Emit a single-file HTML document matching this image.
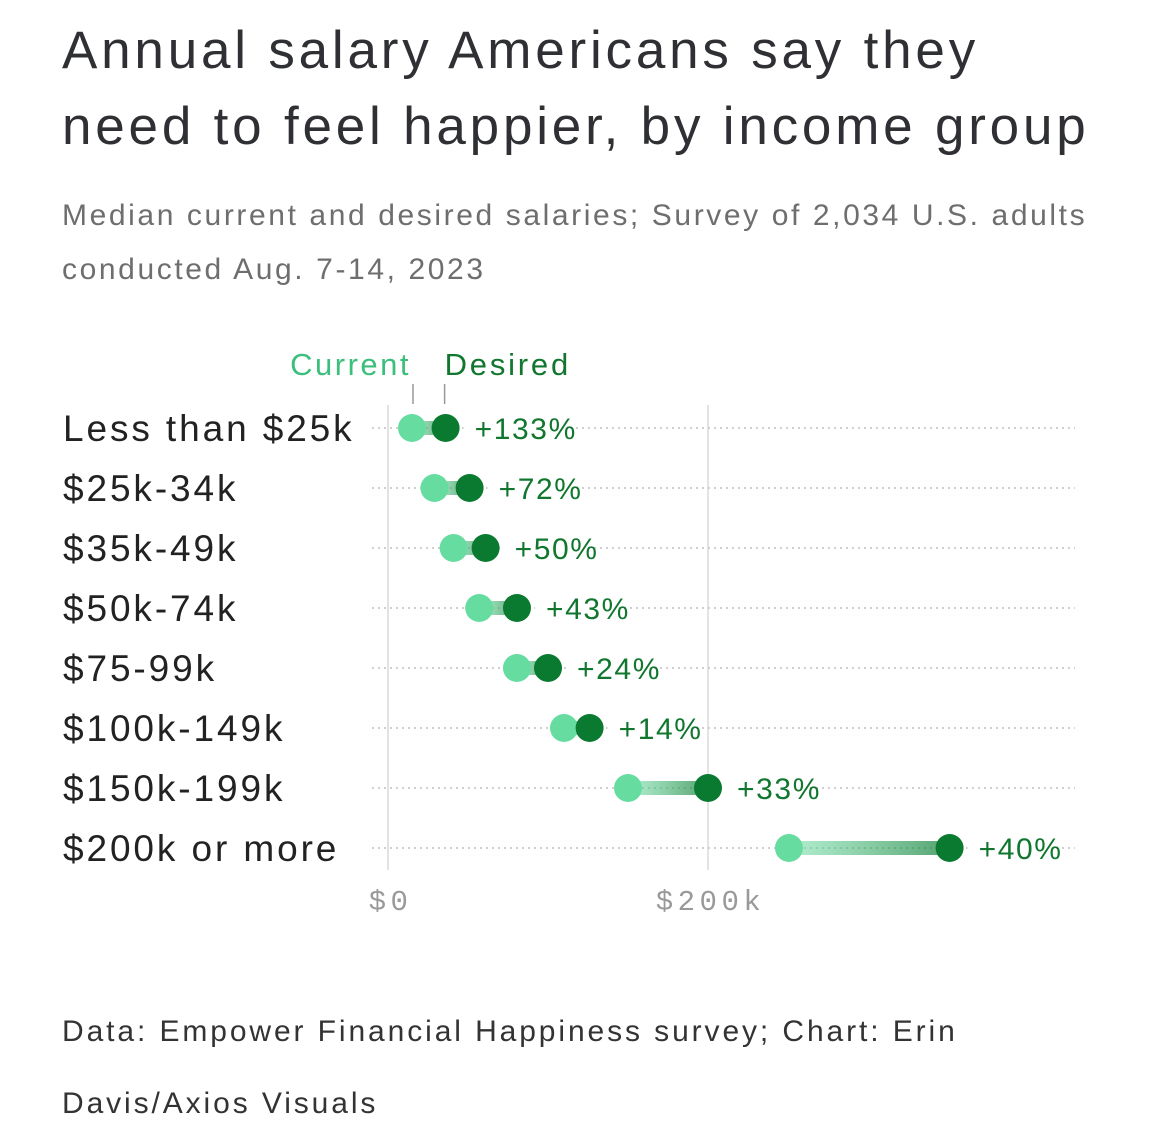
<!DOCTYPE html>
<html><head><meta charset="utf-8"><style>
body{margin:0;background:#fff;width:1170px;height:1147px;overflow:hidden;font-family:"Liberation Sans",sans-serif;}
.t{position:absolute;left:62px;top:13px;font-size:53px;line-height:76px;color:#2f3033;letter-spacing:3.8px;white-space:nowrap;}
.s{position:absolute;left:62px;top:189px;font-size:30px;line-height:54px;color:#6e6e6e;letter-spacing:2.6px;white-space:nowrap;}
.f{position:absolute;left:62px;top:996px;font-size:30px;line-height:72px;color:#333;letter-spacing:2.9px;white-space:nowrap;}
svg{position:absolute;left:0;top:0;}
</style></head><body>
<div class="t">Annual salary Americans say they<br>need to feel happier, by income group</div>
<div class="s">Median current and desired salaries; Survey of 2,034 U.S. adults<br>conducted Aug. 7-14, 2023</div>
<svg width="1170" height="1147" id="chart">
<defs><linearGradient id="g" x1="0" x2="1"><stop offset="0" stop-color="#66dca0" stop-opacity="0.5"/><stop offset="1" stop-color="#0a7a30" stop-opacity="0.7"/></linearGradient></defs>
</svg>
<div class="f">Data: Empower Financial Happiness survey; Chart: Erin<br>Davis/Axios Visuals</div>
<script>
const categories=["Less than $25k","$25k-34k","$35k-49k","$50k-74k","$75-99k","$100k-149k","$150k-199k","$200k or more"];
const current=[15,29,41,57,80.6,110,150,250.6];
const desired=[36,51,61,80.6,100,126,200,351];
const changeLabels=["+133%","+72%","+50%","+43%","+24%","+14%","+33%","+40%"];
const xTicks=[0,200];
const xTickLabels=["$0","$200k"];
const NS="http://www.w3.org/2000/svg";
const svg=document.getElementById('chart');
const x=v=>388+v*1.6;
const y=i=>428+i*60;
function mk(t,a){const e=document.createElementNS(NS,t);for(const k in a)e.setAttribute(k,a[k]);svg.appendChild(e);return e;}
xTicks.forEach((t,i)=>{
 const l=mk('line',{x1:x(t),x2:x(t),y1:405,y2:870,stroke:'#e3e3e3','stroke-width':2});
 
 
 const tx=mk('text',{x:x(t)+2.5,y:910,'text-anchor':'middle','font-family':'Liberation Mono, monospace','font-size':29,'letter-spacing':4.5,fill:'#999'});
 tx.textContent=xTickLabels[i];
 
 
});
const lc=mk('text',{x:x(current[0])-1,y:375,'text-anchor':'end','font-size':31,'letter-spacing':2.5,fill:'#3cbf7c'});lc.textContent='Current';


const ld=mk('text',{x:x(desired[0])-1,y:375,'font-size':31,'letter-spacing':2.8,fill:'#11772f'});ld.textContent='Desired';


mk('line',{x1:x(current[0])+1,x2:x(current[0])+1,y1:384,y2:404,stroke:'#999','stroke-width':1.5});
mk('line',{x1:x(desired[0])-1,x2:x(desired[0])-1,y1:384,y2:404,stroke:'#999','stroke-width':1.5});
categories.forEach((c,i)=>{
 const g=mk('line',{x1:372,x2:1075,y1:y(i),y2:y(i),stroke:'#cfcfcf','stroke-width':2,'stroke-dasharray':'2 4'});
 
 
 const lab=mk('text',{x:63,y:y(i)+13,'font-size':37,'letter-spacing':2.9,fill:'#222'});lab.textContent=c;
 
 
 const r=mk('rect',{x:x(current[i]),y:y(i)-7,width:x(desired[i])-x(current[i]),height:14,fill:'url(#g)'});
 
 
 const a=mk('circle',{cx:x(current[i]),cy:y(i),r:14,fill:'#66dca0'});
 
 
 const b=mk('circle',{cx:x(desired[i]),cy:y(i),r:14,fill:'#0a7a30'});
 
 
 const bg=mk('rect',{x:x(desired[i])+18,y:y(i)-18,width:changeLabels[i].length*19+8,height:36,fill:'#fff'});
 const p=mk('text',{x:x(desired[i])+29,y:y(i)+11,'font-size':30,'letter-spacing':1.6,fill:'#11772f'});p.textContent=changeLabels[i];
 
 
});
</script>
</body></html>
